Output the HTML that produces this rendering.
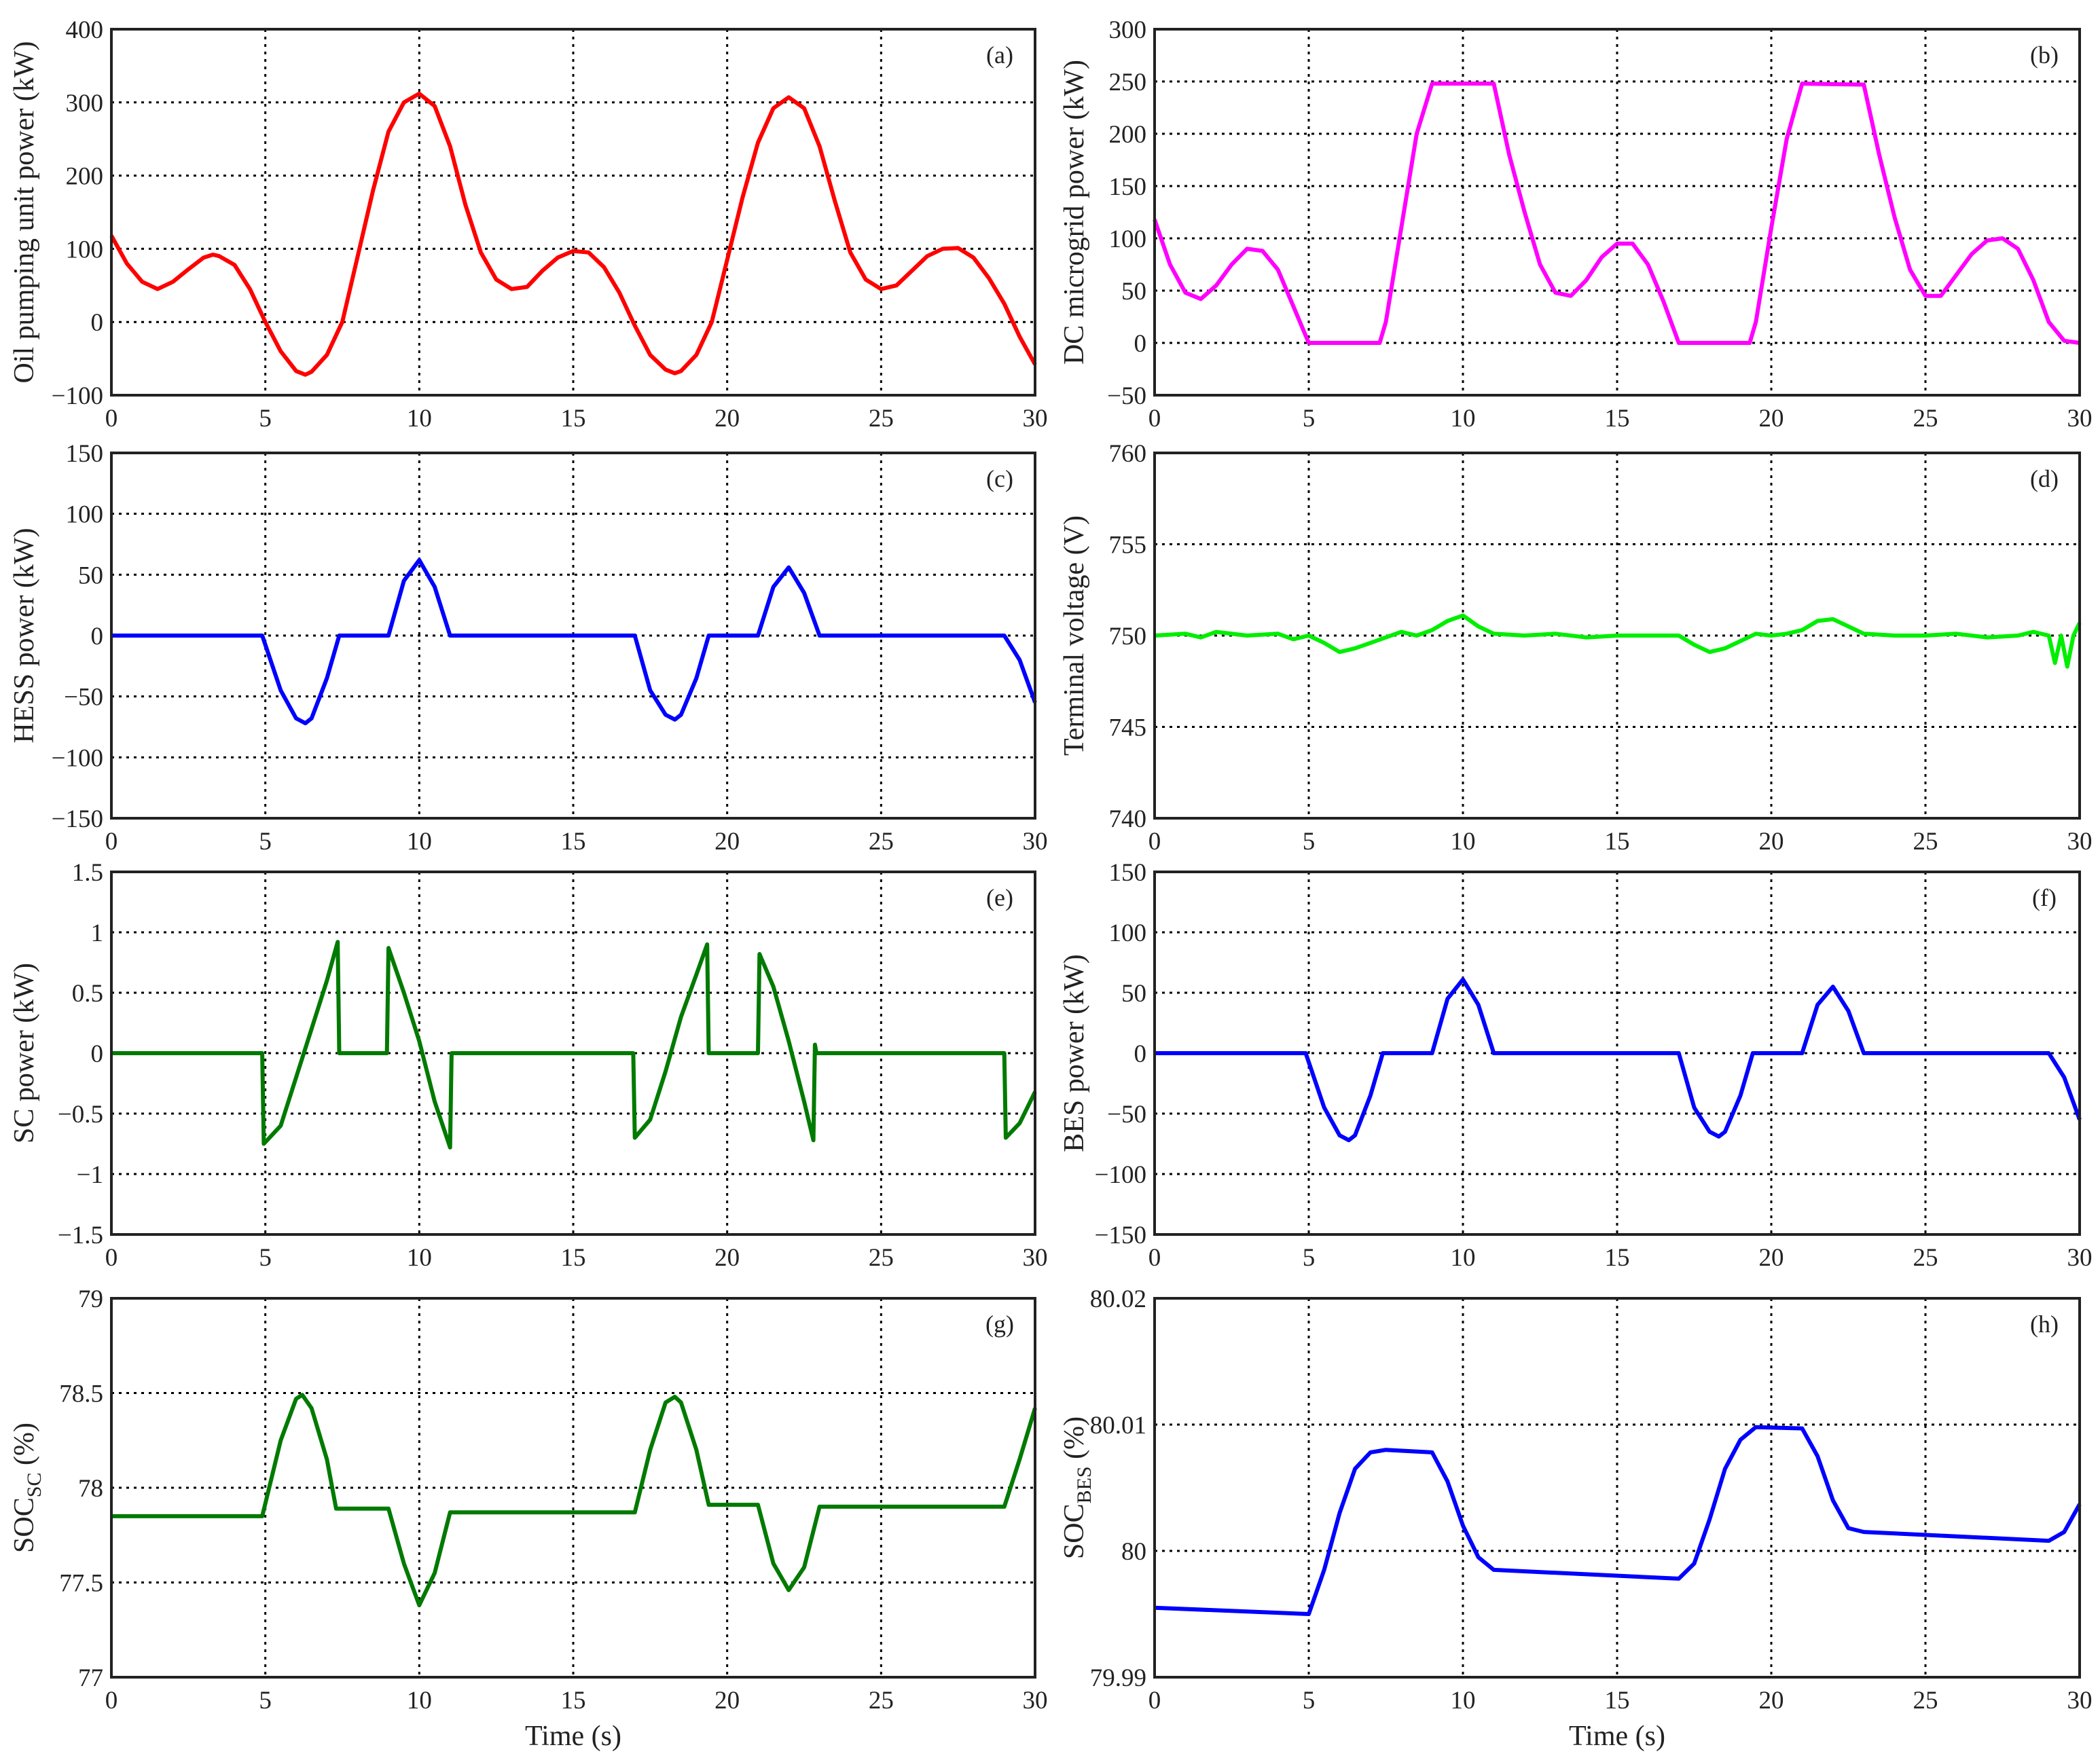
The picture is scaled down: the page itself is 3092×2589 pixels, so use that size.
<!DOCTYPE html>
<html><head><meta charset="utf-8"><style>
html,body{margin:0;padding:0;background:#fff}
svg{display:block}
text{font-family:"Liberation Serif",serif;fill:#222}
</style></head><body>
<svg id="fig" width="3092" height="2589" viewBox="0 0 3092 2589" xmlns="http://www.w3.org/2000/svg"></svg>
<script>
const xTicks=[0,5,10,15,20,25,30];
// (a) oil pumping unit power
const tA=[0,0.5,1,1.5,2,2.5,3,3.3,3.5,4,4.5,5,5.5,6,6.3,6.5,7,7.5,8,8.5,9,9.5,10,10.5,11,11.5,12,12.5,13,13.5,14,14.5,15,15.5,16,16.5,17,17.5,18,18.3,18.5,19,19.5,20,20.5,21,21.5,22,22.5,23,23.5,24,24.5,25,25.5,26,26.5,27,27.5,28,28.5,29,29.5,30];
const vA=[118,80,55,45,55,72,88,92,90,78,45,0,-40,-67,-72,-68,-45,0,90,180,260,300,312,295,240,160,95,58,45,48,70,88,97,95,75,40,-5,-45,-65,-70,-67,-45,0,85,170,245,292,307,292,240,165,95,58,45,50,70,90,100,101,88,60,25,-20,-58];
// (b) DC microgrid power
const tB=[0,0.5,1,1.5,2,2.5,3,3.5,4,4.5,5,7.3,7.5,8,8.5,9,11,11.5,12,12.5,13,13.5,14,14.5,15,15.5,16,16.5,17,19.3,19.5,20,20.5,21,23,23.5,24,24.5,25,25.5,26,26.5,27,27.5,28,28.5,29,29.5,30];
const vB=[118,75,48,42,55,75,90,88,70,35,0,0,20,110,200,248,248,180,125,75,48,45,60,82,95,95,75,40,0,0,20,110,195,248,247,180,120,70,45,45,65,85,98,100,90,60,20,2,0];
// (c) HESS power
const tC=[0,4.9,5.5,6,6.3,6.5,7,7.4,9,9.5,10,10.5,11,17,17.5,18,18.3,18.5,19,19.4,21,21.5,22,22.5,23,29,29.5,30];
const vC=[0,0,-45,-68,-72,-68,-35,0,0,45,62,40,0,0,-45,-65,-69,-65,-35,0,0,40,56,35,0,0,-20,-55];
// (d) terminal voltage
const tD=[0,1,1.5,2,3,4,4.5,5,5.5,6,6.5,7,7.5,8,8.5,9,9.5,10,10.5,11,12,13,14,15,16,17,17.5,18,18.5,19,19.5,20,20.5,21,21.5,22,22.5,23,24,25,26,27,28,28.5,29,29.2,29.4,29.6,29.8,30];
const vD=[750,750.1,749.9,750.2,750,750.1,749.8,750,749.6,749.1,749.3,749.6,749.9,750.2,750,750.3,750.8,751.1,750.5,750.1,750,750.1,749.9,750,750,750,749.5,749.1,749.3,749.7,750.1,750,750.1,750.3,750.8,750.9,750.5,750.1,750,750,750.1,749.9,750,750.2,750,748.5,750,748.3,750,750.7];
// (e) SC power
const tE=[0,4.9,4.95,5.5,6,6.5,7,7.35,7.4,8.95,9,9.5,10,10.5,11,11.05,16.95,17,17.5,18,18.5,19,19.35,19.4,21,21.05,21.5,22,22.5,22.8,22.85,22.9,29,29.05,29.5,30];
const vE=[0,0,-0.75,-0.6,-0.2,0.2,0.6,0.92,0,0,0.87,0.5,0.1,-0.4,-0.78,0,0,-0.7,-0.55,-0.15,0.3,0.65,0.9,0,0,0.82,0.55,0.1,-0.4,-0.72,0.07,0,0,-0.7,-0.58,-0.32];
// (f) BES power
const tF=[0,4.9,5.5,6,6.3,6.5,7,7.4,9,9.5,10,10.5,11,17,17.5,18,18.3,18.5,19,19.4,21,21.5,22,22.5,23,29,29.5,30];
const vF=[0,0,-45,-68,-72,-68,-35,0,0,45,61,40,0,0,-45,-65,-69,-65,-35,0,0,40,55,35,0,0,-20,-55];
// (g) SOC SC
const tG=[0,4.9,5.5,6,6.2,6.5,7,7.3,9,9.5,10,10.5,11,17,17.5,18,18.3,18.5,19,19.4,21,21.5,22,22.5,23,29,29.5,30];
const vG=[77.85,77.85,78.25,78.47,78.49,78.42,78.15,77.89,77.89,77.6,77.38,77.55,77.87,77.87,78.2,78.45,78.48,78.45,78.2,77.91,77.91,77.6,77.46,77.58,77.9,77.9,78.15,78.42];
// (h) SOC BES
const tH=[0,5,5.5,6,6.5,7,7.5,9,9.5,10,10.5,11,17,17.5,18,18.5,19,19.5,21,21.5,22,22.5,23,29,29.5,30];
const vH=[79.9955,79.995,79.9985,80.003,80.0065,80.0078,80.008,80.0078,80.0055,80.002,79.9995,79.9985,79.9978,79.999,80.0025,80.0065,80.0088,80.0098,80.0097,80.0075,80.004,80.0018,80.0015,80.0008,80.0015,80.0037];
const ticksA=[-100,0,100,200,300,400], ticksB=[-50,0,50,100,150,200,250,300], ticksC=[-150,-100,-50,0,50,100,150];
const ticksD=[740,745,750,755,760], ticksE=[-1.5,-1,-0.5,0,0.5,1,1.5], ticksF=[-150,-100,-50,0,50,100,150];
const ticksG=[77,77.5,78,78.5,79], ticksH=[79.99,80,80.01,80.02];
const labG=["77","77.5","78","78.5","79"], labE=["−1.5","−1","−0.5","0","0.5","1","1.5"], labH=["79.99","80","80.01","80.02"];

const NS="http://www.w3.org/2000/svg";
const svg=document.getElementById('fig');
function mk(tag,attrs,parent){const e=document.createElementNS(NS,tag);for(const k in attrs)e.setAttribute(k,attrs[k]);(parent||svg).appendChild(e);return e;}
const cols=[[164,1524],[1700,3062]];
const rows=[[43,582],[667,1205],[1284,1818],[1912,2470]];
function panel(id,col,row,ts,vs,ticks,labs,color,ylabel,sub){
  const [x0,x1]=cols[col],[y0,y1]=rows[row];
  const ymin=ticks[0],ymax=ticks[ticks.length-1];
  const X=t=>x0+(t-0)/(30-0)*(x1-x0);
  const Y=v=>y1-(v-ymin)/(ymax-ymin)*(y1-y0);
  const g=mk('g',{});
  
  
  xTicks.forEach(t=>{
    const l=mk('line',{x1:X(t),x2:X(t),y1:y0,y2:y1,stroke:'#000','stroke-width':3,'stroke-dasharray':'4 7'},g);
    
    
    const tx=mk('text',{x:X(t),y:y1+46,'font-size':37,'text-anchor':'middle'},g);
    
    
    tx.textContent=t;
  });
  ticks.forEach((v,i)=>{
    const l=mk('line',{x1:x0,x2:x1,y1:Y(v),y2:Y(v),stroke:'#000','stroke-width':3,'stroke-dasharray':'4 7'},g);
    
    
    const tx=mk('text',{x:x0-12,y:Y(v)+13,'font-size':37,'text-anchor':'end'},g);
    
    
    tx.textContent=labs?labs[i]:String(v).replace('-','−');
  });
  const pts=ts.map((t,i)=>X(t).toFixed(1)+','+Y(vs[i]).toFixed(1)).join(' ');
  const pl=mk('polyline',{points:pts,fill:'none',stroke:color,'stroke-width':6,'stroke-linejoin':'round'},g);
  
  
  const fr=mk('rect',{x:x0,y:y0,width:x1-x0,height:y1-y0,fill:'none',stroke:'#222','stroke-width':4},g);
  
  
  const pl2=mk('text',{x:x1-52,y:y0+50,'font-size':36,'text-anchor':'middle'},g);
  
  
  pl2.textContent='('+id+')';
  const lx=x0-(col==0?115:105), ly=(y0+y1)/2;
  const yl=mk('text',{x:lx,y:ly,'font-size':42,'text-anchor':'middle',transform:`rotate(-90 ${lx} ${ly})`},g);
  
  
  if(sub){
    const a=mk('tspan',{},yl);a.textContent='SOC';
    const b=mk('tspan',{'font-size':30,dy:11},yl);b.textContent=sub;
    const c=mk('tspan',{dy:-11},yl);c.textContent=' (%)';
  } else yl.textContent=ylabel;
  if(row==3){
    const xl=mk('text',{x:(x0+x1)/2,y:y1+100,'font-size':42,'text-anchor':'middle'},g);
    
    
    xl.textContent='Time (s)';
  }
}
panel('a',0,0,tA,vA,ticksA,null,'#ff0000','Oil pumping unit power (kW)');
panel('b',1,0,tB,vB,ticksB,null,'#ff00ff','DC microgrid power (kW)');
panel('c',0,1,tC,vC,ticksC,null,'#0000ff','HESS power (kW)');
panel('d',1,1,tD,vD,ticksD,null,'#00ee00','Terminal voltage (V)');
panel('e',0,2,tE,vE,ticksE,labE,'#007a00','SC power (kW)');
panel('f',1,2,tF,vF,ticksF,null,'#0000ff','BES power (kW)');
panel('g',0,3,tG,vG,ticksG,labG,'#007a00','',"SC");
panel('h',1,3,tH,vH,ticksH,labH,'#0000ff','',"BES");
</script>
</body></html>
